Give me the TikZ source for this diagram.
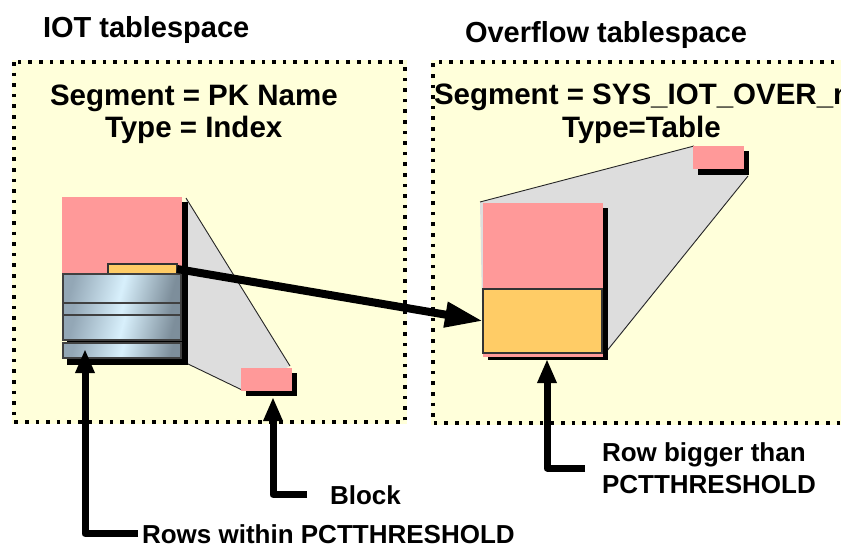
\documentclass[tikz,border=0pt]{standalone}
\usepackage{fontspec}
\setmainfont{Liberation Sans}
\usetikzlibrary{arrows.meta}

\definecolor{paper}{HTML}{FFFFDA}
\definecolor{blockpink}{HTML}{FF9999}
\definecolor{rowgold}{HTML}{FFCC66}
\definecolor{conegray}{HTML}{DDDDDD}
\definecolor{rowblue}{HTML}{D8F0FC}
\definecolor{rowsteel}{HTML}{93A7B6}

\tikzset{
  every node/.style={inner sep=0pt, outer sep=0pt},
  zone/.style={fill=paper},
  dotline/.style={line width=3.6pt, dash pattern=on 3.6pt off 7pt},
  coneface/.style={fill=conegray},
  coneedge/.style={line width=0.9pt, black!85},
  rect/.style={anchor=north west, minimum width=#1},
  shadowbox/.style={fill=black},
  pinkbox/.style={fill=blockpink},
  goldbox/.style={fill=rowgold, draw=black!80, line width=1.1pt},
  rowbar/.style={draw=black!75, line width=1.2pt, left color=rowsteel,
                 right color=rowsteel!85!black, middle color=rowblue, shading angle=75},
  headtext/.style={anchor=base west, font=\fontsize{29}{31}\selectfont\bfseries},
  infotext/.style={anchor=base west, font=\fontsize{29.5}{31}\selectfont\bfseries},
  labeltext/.style={font=\fontsize{26}{32}\selectfont\bfseries},
  flow/.style={line width=8pt, -{Triangle[length=38pt,width=24pt]}},
  pointer/.style={line width=7pt, line join=round, -{Triangle[length=24pt,width=18pt]}},
}

\begin{document}
\begin{tikzpicture}[x=1pt, y=-1pt]
\useasboundingbox (0,0) rectangle (841,549);
\clip (0,0) rectangle (841,549);

% tablespace areas
\fill[zone] (12,60) rectangle (407,424);
\fill[zone] (431,60) rectangle (845,425);
\draw[dotline] (14,62) rectangle (405,422);
\draw[dotline] (845,62) -- (433,62) -- (433,423) -- (845,423);

% headings
\node[headtext] (iothead) at (43,37) {IOT tablespace};
\node[headtext] (ovfhead) at (465,42) {Overflow tablespace};
\node[infotext] (iotseg) at (50,105) {Segment = PK Name};
\node[infotext] (iottype) at (105,137) {Type = Index};
\node[infotext] (ovfseg) at (434,104) {Segment = SYS\_IOT\_OVER\_n};
\node[infotext] (ovftype) at (562,137) {Type=Table};

% zoom cone of the IOT segment
\fill[coneface] (186,198) -- (290,366) -- (242,390) -- (186,363) -- cycle;
\draw[coneedge] (186,198) -- (290,366);
\draw[coneedge] (186,363) -- (242,390);

% zoom cone of the overflow segment
\fill[coneface] (480,202) -- (694,146) -- (748,176) -- (606,353) -- (483,353) -- cycle;
\draw[coneedge] (480,202) -- (694,146);
\draw[coneedge] (748,176) -- (606,352);

% IOT segment
\node[rect=121pt, shadowbox, minimum height=163pt] (iotshadow) at (67,202) {};
\node[rect=120pt, pinkbox, minimum height=78pt] (iotpink) at (62,197) {};
\node[rect=69pt, goldbox, minimum height=10pt] (iotgold) at (108,264) {};
\node[rect=118pt, rowbar, minimum height=29pt] (row1) at (63,274) {};
\node[rect=118pt, rowbar, minimum height=12pt] (row2) at (63,303) {};
\node[rect=118pt, rowbar, minimum height=25pt] (row3) at (63,315) {};
\node[rect=118pt, rowbar, minimum height=15pt] (row4) at (63,343) {};

% block of the IOT segment
\node[rect=51pt, shadowbox, minimum height=23pt] (iotblkshadow) at (246,373) {};
\node[rect=51pt, pinkbox, minimum height=23pt] (iotblk) at (241,368) {};

% overflow segment
\node[rect=120pt, shadowbox, minimum height=152pt] (ovfshadow) at (488,208) {};
\node[rect=120pt, pinkbox, minimum height=154pt] (ovfpink) at (483,203) {};
\node[rect=119pt, goldbox, minimum height=64pt] (ovfgold) at (483,289) {};

% block of the overflow segment
\node[rect=51pt, shadowbox, minimum height=24pt] (ovfblkshadow) at (698,151) {};
\node[rect=51pt, pinkbox, minimum height=23pt] (ovfblk) at (693,146) {};

% row moved to the overflow segment
\draw[flow] (iotgold.east) -- (ovfgold.west);

% callouts
\coordinate (rowstip) at (85,349);
\coordinate (blocktip) at (273,397);
\coordinate (bigtip) at (547,359);

\node[labeltext, anchor=base west] (rowslbl) at (142,543) {Rows within PCTTHRESHOLD};
\node[labeltext, anchor=base west] (blocklbl) at (330,504) {Block};
\node[labeltext, anchor=west, align=left] (biglbl) at (602,468) {Row bigger than\\PCTTHRESHOLD};

\draw[pointer] ([xshift=-4pt]rowslbl.west) -| (rowstip);
\draw[pointer] ([xshift=-23pt]blocklbl.west) -| (blocktip);
\draw[pointer] ([xshift=-17pt]biglbl.west) -| (bigtip);
\end{tikzpicture}
\end{document}
